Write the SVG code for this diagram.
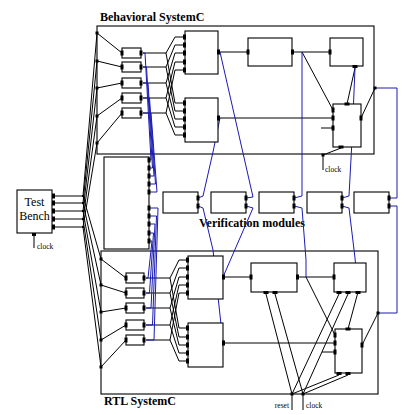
<svg xmlns="http://www.w3.org/2000/svg" width="410" height="415" viewBox="0 0 410 415">
<style>
.b{fill:none;stroke:#000;stroke-width:1}
.bl{fill:none;stroke:#1a1ab4;stroke-width:1}
.n{fill:#fff;stroke:#000;stroke-width:1.1}
.f{fill:none;stroke:#000;stroke-width:1.1}
.p{fill:#000}
.t{font-family:"Liberation Serif","Times New Roman",serif;fill:#000}
.h{font-weight:bold;font-size:12px}
.s{font-size:7.5px}
</style>
<rect width="410" height="415" fill="#fff"/>
<!-- containers -->
<g id="behavioral">
<rect class="f" x="97" y="26" width="277" height="128"/>
<text class="t h" x="100" y="21">Behavioral SystemC</text>
</g>
<g id="rtl">
<rect class="f" x="101" y="251" width="277" height="143"/>
<text class="t h" x="104" y="405">RTL SystemC</text>
</g>
<text class="t h" x="199" y="227">Verification modules</text>
<g id="connectors">
<!-- test bench to fanout -->
<path class="b" d="M55,196H83M55,203H83M55,211H83M55,219H83M55,227H83"/>
<path class="b" d="M83,196L97,33M83,203L97,61M83,211L97,88M83,219L97,116M83,227L97,143"/>
<path class="b" d="M83,196L101,259M83,203L101,285M83,211L101,312M83,219L101,340M83,227L101,367"/>
<path class="b" d="M34,236V248"/>
<!-- behavioral dots to small boxes -->
<path class="b" d="M97,33L122,53M97,61L122,67M97,88L122,83M97,116L122,98M97,143L122,113"/>
<!-- rtl dots to small boxes -->
<path class="b" d="M101,259L126,278M101,285L126,293M101,312L126,308M101,340L126,325M101,367L126,340"/>
<!-- behavioral small boxes to big boxes -->
<path class="b" d="M143,53H166L175,37H183M166,53L175,103H183
M143,67H166L175,45H183M166,67L175,111H183
M143,83H166L175,53H183M166,83L175,119H183
M143,98H166L175,62H183M166,98L175,127H183
M143,113H166L175,70H183M166,113L175,135H183"/>
<!-- rtl small boxes to big boxes -->
<path class="b" d="M146,278H170L179,260H186M170,278L179,328H186
M146,293H170L179,268H186M170,293L179,337H186
M146,308H170L179,277H186M170,308L179,345H186
M146,325H170L179,285H186M170,325L179,353H186
M146,340H170L179,293H186M170,340L179,361H186"/>
<!-- behavioral chain -->
<path class="b" d="M220,52H248M294,52H330M302,52L333,110M355,68L347,104M220,118H333M321,128H333M361,118L375,88M341,148L323,155M323,155V170"/>
<!-- rtl chain -->
<path class="b" d="M225,277H251M299,277H334M306,277L335,335M358,292L348,329M225,343H335M322,352H335M362,345L378,313"/>
<!-- reset / clock -->
<path class="b" d="M266,294L292,394M275,294L303,394
M339,294L292,394M348,294L303,394
M339,375L292,394M348,375L303,394
M292,394V410M303,394V410"/>
<!-- blue: behavioral small boxes to middle box -->
<path class="bl" d="M143,53H145L151,160H149M143,67H146.5L152.5,168H149M143,83H148L154,176H149M143,98H149.5L155.5,184H149M143,113H151L157,192H149"/>
<!-- blue: rtl small boxes to middle box -->
<path class="bl" d="M146,278H148L152,241H149M146,293H149.5L153.5,233H149M146,308H151L155,224H149M146,325H152.5L156.5,216H149M146,340H154L158,208H149"/>
<!-- blue: verification modules -->
<path class="bl" d="M198,198L203,196L213,152L220,118M198,206L203,208L213,250L223,343"/>
<path class="bl" d="M246,198L253,197L220,52M246,206L253,208L223,277"/>
<path class="bl" d="M294,198L302,196V52M294,206L302,208L306,260V277"/>
<path class="bl" d="M342,198L349,196L352,140L355,68M342,206L349,208L355,258L358,292"/>
<path class="bl" d="M389,198H397V88H375M389,206H397V313H378"/>
</g>
<!-- junction dots -->
<g id="dots" class="p">
<rect x="95.5" y="31.5" width="3" height="3"/><rect x="95.5" y="59.5" width="3" height="3"/><rect x="95.5" y="86.5" width="3" height="3"/><rect x="95.5" y="114.5" width="3" height="3"/><rect x="95.5" y="141.5" width="3" height="3"/>
<rect x="99.5" y="257.5" width="3" height="3"/><rect x="99.5" y="283.5" width="3" height="3"/><rect x="99.5" y="310.5" width="3" height="3"/><rect x="99.5" y="338.5" width="3" height="3"/><rect x="99.5" y="365.5" width="3" height="3"/>
<rect x="82" y="195" width="2" height="2"/><rect x="82" y="202" width="2" height="2"/><rect x="82" y="210" width="2" height="2"/><rect x="82" y="218" width="2" height="2"/><rect x="82" y="226" width="2" height="2"/>
<rect x="321.5" y="153.5" width="3" height="3"/><rect x="373.5" y="86.5" width="3" height="3"/><rect x="376.5" y="311.5" width="3" height="3"/>
<rect x="290.5" y="392.5" width="3" height="3"/><rect x="301.5" y="392.5" width="3" height="3"/>
</g>
<g id="test-bench">
<rect class="n" x="17" y="190" width="35" height="43"/>
<text class="t" x="34.5" y="206" font-size="12" text-anchor="middle">Test</text>
<text class="t" x="34.5" y="220" font-size="12" text-anchor="middle">Bench</text>
<g class="p"><rect x="52" y="193.5" width="3" height="5"/><rect x="52" y="200.5" width="3" height="5"/><rect x="52" y="208.5" width="3" height="5"/><rect x="52" y="216.5" width="3" height="5"/><rect x="52" y="224.5" width="3" height="5"/><rect x="32" y="233" width="4" height="3"/></g>
<text class="t s" x="37" y="249">clock</text>
</g>
<g id="beh-small">
<rect class="n" x="122" y="48" width="19" height="10"/><rect class="n" x="122" y="62" width="19" height="10"/><rect class="n" x="122" y="78" width="19" height="10"/><rect class="n" x="122" y="93" width="19" height="10"/><rect class="n" x="122" y="108" width="19" height="10"/>
<g class="p">
<rect x="120.5" y="50.5" width="3" height="5"/><rect x="139.5" y="50.5" width="3" height="5"/>
<rect x="120.5" y="64.5" width="3" height="5"/><rect x="139.5" y="64.5" width="3" height="5"/>
<rect x="120.5" y="80.5" width="3" height="5"/><rect x="139.5" y="80.5" width="3" height="5"/>
<rect x="120.5" y="95.5" width="3" height="5"/><rect x="139.5" y="95.5" width="3" height="5"/>
<rect x="120.5" y="110.5" width="3" height="5"/><rect x="139.5" y="110.5" width="3" height="5"/>
</g>
</g>
<g id="rtl-small">
<rect class="n" x="126" y="273" width="18" height="10"/><rect class="n" x="126" y="288" width="18" height="10"/><rect class="n" x="126" y="303" width="18" height="10"/><rect class="n" x="126" y="320" width="18" height="10"/><rect class="n" x="126" y="335" width="18" height="10"/>
<g class="p">
<rect x="124.5" y="275.5" width="3" height="5"/><rect x="142.5" y="275.5" width="3" height="5"/>
<rect x="124.5" y="290.5" width="3" height="5"/><rect x="142.5" y="290.5" width="3" height="5"/>
<rect x="124.5" y="305.5" width="3" height="5"/><rect x="142.5" y="305.5" width="3" height="5"/>
<rect x="124.5" y="322.5" width="3" height="5"/><rect x="142.5" y="322.5" width="3" height="5"/>
<rect x="124.5" y="337.5" width="3" height="5"/><rect x="142.5" y="337.5" width="3" height="5"/>
</g>
</g>
<g id="beh-big1">
<rect class="n" x="185" y="31" width="33" height="43"/>
<g class="p"><rect x="183" y="34.5" width="3" height="5"/><rect x="183" y="42.5" width="3" height="5"/><rect x="183" y="50.5" width="3" height="5"/><rect x="183" y="59.5" width="3" height="5"/><rect x="183" y="67.5" width="3" height="5"/><rect x="217" y="49.5" width="3" height="5"/></g>
</g>
<g id="beh-big2">
<rect class="n" x="185" y="98" width="33" height="44"/>
<g class="p"><rect x="183" y="100.5" width="3" height="5"/><rect x="183" y="108.5" width="3" height="5"/><rect x="183" y="116.5" width="3" height="5"/><rect x="183" y="124.5" width="3" height="5"/><rect x="183" y="132.5" width="3" height="5"/><rect x="217" y="115.5" width="3" height="5"/></g>
</g>
<g id="beh-m1">
<rect class="n" x="248" y="38" width="44" height="28"/>
<g class="p"><rect x="246.5" y="49.5" width="3" height="5"/><rect x="291" y="49.5" width="3" height="5"/></g>
</g>
<g id="beh-m2">
<rect class="n" x="330" y="38" width="33" height="28"/>
<g class="p"><rect x="328.5" y="49.5" width="3" height="5"/><rect x="352.5" y="65" width="5" height="3"/></g>
</g>
<g id="beh-c1">
<rect class="n" x="333" y="104" width="28" height="43"/>
<g class="p"><rect x="331.5" y="107.5" width="3" height="5"/><rect x="331.5" y="115.5" width="3" height="5"/><rect x="331.5" y="125.5" width="3" height="5"/><rect x="344.5" y="102.5" width="5" height="3"/><rect x="359.5" y="115.5" width="3" height="5"/><rect x="338.5" y="145.5" width="5" height="3"/></g>
<text class="t s" x="325" y="172">clock</text>
</g>
<g id="middle">
<rect class="n" x="104" y="157" width="45" height="92"/>
<g class="p"><rect x="147.5" y="157.5" width="3" height="5"/><rect x="147.5" y="165.5" width="3" height="5"/><rect x="147.5" y="173.5" width="3" height="5"/><rect x="147.5" y="181.5" width="3" height="5"/><rect x="147.5" y="189.5" width="3" height="5"/>
<rect x="147.5" y="205.5" width="3" height="5"/><rect x="147.5" y="213.5" width="3" height="5"/><rect x="147.5" y="221.5" width="3" height="5"/><rect x="147.5" y="230.5" width="3" height="5"/><rect x="147.5" y="238.5" width="3" height="5"/></g>
</g>
<g id="v1"><rect class="n" x="163" y="192" width="35" height="21"/><g class="p"><rect x="196.5" y="195.5" width="3" height="5"/><rect x="196.5" y="203.5" width="3" height="5"/></g></g>
<g id="v2"><rect class="n" x="211" y="192" width="35" height="21"/><g class="p"><rect x="244.5" y="195.5" width="3" height="5"/><rect x="244.5" y="203.5" width="3" height="5"/></g></g>
<g id="v3"><rect class="n" x="259" y="192" width="35" height="21"/><g class="p"><rect x="292.5" y="195.5" width="3" height="5"/><rect x="292.5" y="203.5" width="3" height="5"/></g></g>
<g id="v4"><rect class="n" x="307" y="192" width="35" height="21"/><g class="p"><rect x="340.5" y="195.5" width="3" height="5"/><rect x="340.5" y="203.5" width="3" height="5"/></g></g>
<g id="v5"><rect class="n" x="354" y="192" width="35" height="21"/><g class="p"><rect x="387.5" y="195.5" width="3" height="5"/><rect x="387.5" y="203.5" width="3" height="5"/></g></g>
<g id="rtl-big1">
<rect class="n" x="188" y="256" width="35" height="43"/>
<g class="p"><rect x="186" y="257.5" width="3" height="5"/><rect x="186" y="265.5" width="3" height="5"/><rect x="186" y="274.5" width="3" height="5"/><rect x="186" y="282.5" width="3" height="5"/><rect x="186" y="290.5" width="3" height="5"/><rect x="222" y="274.5" width="3" height="5"/></g>
</g>
<g id="rtl-big2">
<rect class="n" x="188" y="323" width="35" height="44"/>
<g class="p"><rect x="186" y="325.5" width="3" height="5"/><rect x="186" y="334.5" width="3" height="5"/><rect x="186" y="342.5" width="3" height="5"/><rect x="186" y="350.5" width="3" height="5"/><rect x="186" y="358.5" width="3" height="5"/><rect x="222" y="340.5" width="3" height="5"/></g>
</g>
<g id="rtl-m1">
<rect class="n" x="251" y="263" width="46" height="29"/>
<g class="p"><rect x="249.5" y="274.5" width="3" height="5"/><rect x="296" y="274.5" width="3" height="5"/><rect x="263.5" y="291" width="5" height="3"/><rect x="272.5" y="291" width="5" height="3"/></g>
</g>
<g id="rtl-m2">
<rect class="n" x="334" y="263" width="32" height="29"/>
<g class="p"><rect x="332.5" y="274.5" width="3" height="5"/><rect x="336.5" y="291" width="5" height="3"/><rect x="345.5" y="291" width="5" height="3"/><rect x="355.5" y="291" width="5" height="3"/></g>
</g>
<g id="rtl-c2">
<rect class="n" x="335" y="329" width="27" height="44"/>
<g class="p"><rect x="333.5" y="332.5" width="3" height="5"/><rect x="333.5" y="340.5" width="3" height="5"/><rect x="333.5" y="349.5" width="3" height="5"/><rect x="345.5" y="327.5" width="5" height="3"/><rect x="360.5" y="342.5" width="3" height="5"/><rect x="336.5" y="372" width="5" height="3"/><rect x="345.5" y="372" width="5" height="3"/></g>
</g>
<text class="t s" x="289" y="408" text-anchor="end">reset</text>
<text class="t s" x="306" y="408">clock</text>
</svg>
